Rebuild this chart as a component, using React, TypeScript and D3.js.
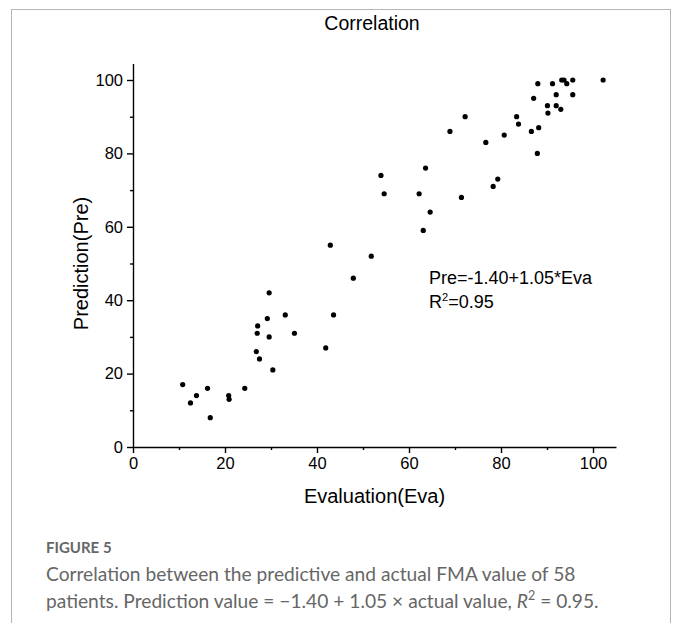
import React, { useEffect, useRef } from 'react';
import * as d3 from 'd3';

// Evaluation (Eva) vs Prediction (Pre) for each patient
const evaValues = [
  10.8, 12.5, 13.8, 16.2, 16.8, 20.8, 20.9, 24.3, 26.8, 27.5, 30.4, 41.9,
  29.6, 33.1, 29.2, 27.1, 27.0, 29.6, 35.1,
  43.6, 47.9, 42.9, 51.8,
  63.1, 64.6, 62.2, 54.6, 71.4, 53.9, 63.6,
  68.9, 76.7, 72.2, 79.3, 78.3, 80.7,
  83.4, 83.8, 86.6, 88.2, 87.9, 87.1, 88.0, 90.1, 90.2, 91.2, 92.0, 92.0, 93.0,
  93.2, 93.7, 94.3, 95.6, 95.6, 102.2,
];
const preValues = [
  17, 12, 14, 16, 8, 14, 13, 16, 26, 24, 21, 27,
  42, 36, 35, 33, 31, 30, 31,
  36, 46, 55, 52,
  59, 64, 69, 69, 68, 74, 76,
  86, 83, 90, 73, 71, 85,
  90, 88, 86, 87, 80, 95, 99, 93, 91, 99, 96, 93, 92,
  100, 100, 99, 100, 96, 100,
];

const majorTicks = [0, 20, 40, 60, 80, 100];
const minorTicks = [10, 30, 50, 70, 90];

const chartTitle = 'Correlation';
const xTitle = 'Evaluation(Eva)';
const yTitle = 'Prediction(Pre)';
const equationLine = 'Pre=-1.40+1.05*Eva';

const figureLabel = 'FIGURE 5';
const captionLine1 = 'Correlation between the predictive and actual FMA value of 58';

function App() {
  const ref = useRef<SVGSVGElement>(null);

  useEffect(() => {
    const svg = d3.select(ref.current);
    svg.selectAll('*').remove();

    const font = '"Liberation Sans", Arial, sans-serif';

    svg.append('rect').attr('width', 680).attr('height', 623).attr('fill', '#fff');
    svg.append('rect')
      .attr('x', 11.5).attr('y', 9.5)
      .attr('width', 659).attr('height', 700)
      .attr('fill', 'none').attr('stroke', '#b5b5b5').attr('stroke-width', 1);

    const x = d3.scaleLinear().domain([0, 105]).range([133, 133 + 105 * 4.6]);
    const y = d3.scaleLinear().domain([0, 104.5]).range([447, 447 - 104.5 * 3.67]);

    const g = svg.append('g');

    const xAxis = g.append('g')
      .attr('transform', `translate(0,${y(0)})`)
      .call(d3.axisBottom(x).tickValues(majorTicks).tickSize(6).tickSizeOuter(0).tickPadding(4));
    g.append('g')
      .attr('transform', `translate(0,${y(0)})`)
      .call(d3.axisBottom(x).tickValues(minorTicks).tickSize(3).tickFormat(() => ''))
      .call((a) => a.select('.domain').remove());

    const yAxis = g.append('g')
      .attr('transform', `translate(${x(0)},0)`)
      .call(d3.axisLeft(y).tickValues(majorTicks).tickSize(6).tickSizeOuter(0).tickPadding(4));
    g.append('g')
      .attr('transform', `translate(${x(0)},0)`)
      .call(d3.axisLeft(y).tickValues(minorTicks).tickSize(3).tickFormat(() => ''))
      .call((a) => a.select('.domain').remove());

    g.selectAll('.domain, .tick line').attr('stroke', '#000').attr('stroke-width', 1.4);
    [xAxis, yAxis].forEach((a) =>
      a.selectAll('text').attr('font-family', font).attr('font-size', 16.5).attr('fill', '#000'));

    g.selectAll('circle')
      .data(evaValues)
      .enter()
      .append('circle')
      .attr('cx', (d) => x(d))
      .attr('cy', (d, i) => y(preValues[i]))
      .attr('r', 2.6)
      .attr('fill', '#000');

    svg.append('text')
      .attr('x', 372).attr('y', 30)
      .attr('text-anchor', 'middle')
      .attr('font-family', font).attr('font-size', 19.5)
      .text(chartTitle);

    svg.append('text')
      .attr('x', x(52.5)).attr('y', 503)
      .attr('text-anchor', 'middle')
      .attr('font-family', font).attr('font-size', 20)
      .text(xTitle);

    svg.append('text')
      .attr('transform', `translate(88,${y(50)}) rotate(-90)`)
      .attr('text-anchor', 'middle')
      .attr('font-family', font).attr('font-size', 20)
      .text(yTitle);

    svg.append('text')
      .attr('x', 429).attr('y', 284)
      .attr('font-family', font).attr('font-size', 18)
      .text(equationLine);

    const r2 = svg.append('text')
      .attr('x', 429).attr('y', 307.5)
      .attr('font-family', font).attr('font-size', 18);
    r2.append('tspan').text('R');
    r2.append('tspan').attr('font-size', 11).attr('dy', -7).text('2');
    r2.append('tspan').attr('dy', 7).text('=0.95');

    const capFont = 'Lato, "Open Sans", sans-serif';
    svg.append('text')
      .attr('x', 46).attr('y', 553)
      .attr('font-family', capFont).attr('font-size', 15).attr('font-weight', 700)
      .attr('fill', '#666')
      .text(figureLabel);

    svg.append('text')
      .attr('x', 46).attr('y', 581)
      .attr('font-family', capFont).attr('font-size', 19.2)
      .attr('fill', '#666')
      .text(captionLine1);

    const line2 = svg.append('text')
      .attr('x', 46).attr('y', 608)
      .attr('font-family', capFont).attr('font-size', 19.2)
      .attr('fill', '#666');
    line2.append('tspan').text('patients. Prediction value = \u22121.40 + 1.05 \u00d7 actual value, ');
    line2.append('tspan').attr('font-style', 'italic').text('R');
    line2.append('tspan').attr('font-size', 12.5).attr('dy', -8).text('2');
    line2.append('tspan').attr('dy', 8).text(' = 0.95.');
  }, []);

  return (
    <svg
      ref={ref}
      width="680"
      height="623"
      style={{ position: 'absolute', left: 0, top: 0, display: 'block' }}
    ></svg>
  );
}

export default App;
